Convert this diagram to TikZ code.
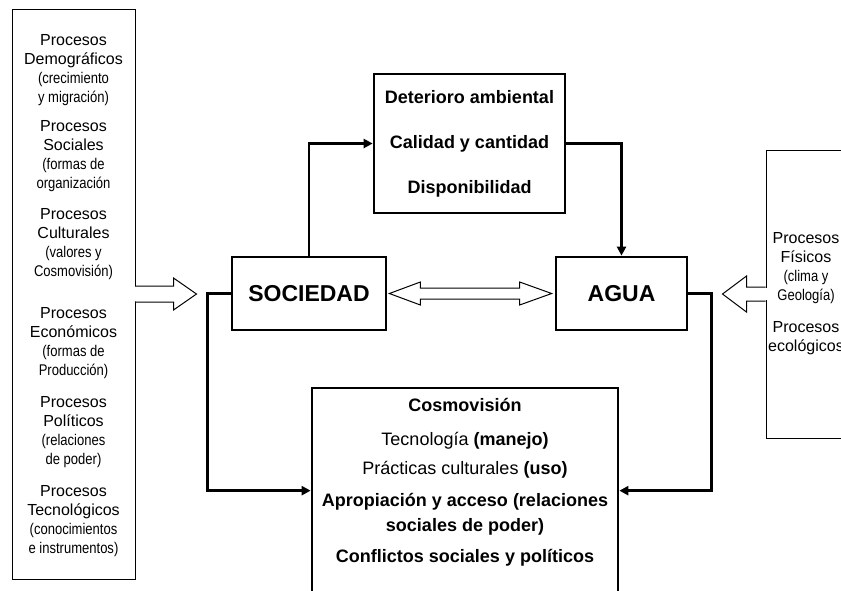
\documentclass[tikz,border=0pt]{standalone}
\usepackage{fontspec}
\setmainfont{Liberation Sans}
\newfontfamily\narrowf[FakeStretch=0.84]{Liberation Sans}
\usetikzlibrary{calc,arrows.meta}
\newcommand\parenln[1]{{\narrowf\fontsize{15.5}{19}\selectfont #1}}
\begin{document}
\begin{tikzpicture}[x=1pt,y=-1pt,
  thickbox/.style={draw,line width=2.7pt,inner sep=0pt},
  thinbox/.style={draw,line width=1pt,inner sep=0pt},
  conn/.style={line width=2.7pt,-{Triangle[length=9pt,width=9pt]}},
  blockarrow/.style={draw,line width=1pt,fill=white},
  procf/.style={font=\fontsize{16}{19}\selectfont, align=center, inner sep=0pt},
  boldf/.style={font=\bfseries\fontsize{18}{21}\selectfont, inner sep=0pt, align=center},
  bigf/.style={font=\bfseries\fontsize{23}{26}\selectfont},
]
\useasboundingbox (0,0) rectangle (841,590);
\clip (0,0) rectangle (841,590);

% left box with process groups
\node[thinbox, minimum width=123pt, minimum height=570pt] (lbox) at (73.5,294) {};
\node[procf] (g1) at (73.5,70)  {Procesos\\Demográficos\\\parenln{(crecimiento}\\\parenln{y migración)}};
\node[procf] (g2) at (73.5,156) {Procesos\\Sociales\\\parenln{(formas de}\\\parenln{organización}};
\node[procf] (g3) at (73.5,244) {Procesos\\Culturales\\\parenln{(valores y}\\\parenln{Cosmovisión)}};
\node[procf] (g4) at (73.5,343) {Procesos\\Económicos\\\parenln{(formas de}\\\parenln{Producción)}};
\node[procf] (g5) at (73.5,432) {Procesos\\Políticos\\\parenln{(relaciones}\\\parenln{de poder)}};
\node[procf] (g6) at (73.5,521) {Procesos\\Tecnológicos\\\parenln{(conocimientos}\\\parenln{e instrumentos)}};

% right box
\node[thinbox, procf, minimum width=80pt, minimum height=288pt] (rbox) at (806,294)
  {Procesos\\Físicos\\\parenln{(clima y}\\\parenln{Geología)}\\[13pt]Procesos\\ecológicos};

% main boxes
\node[thickbox, bigf, minimum width=154pt, minimum height=73pt] (soc) at (309,293.5) {SOCIEDAD};
\node[thickbox, bigf, minimum width=131pt, minimum height=73pt] (agua) at (621.5,293.5) {AGUA};
\node[thickbox, minimum width=191pt, minimum height=139pt, align=center,
      font=\bfseries\fontsize{18}{45}\selectfont] (top) at (469.5,143.5)
  {Deterioro ambiental\\Calidad y cantidad\\Disponibilidad};
\node[thickbox, minimum width=306pt, minimum height=232pt] (bot) at (465,504) {};

% bottom box texts
\node[boldf] (b1) at (465,405) {Cosmovisión};
\node[boldf, font=\fontsize{18}{21}\selectfont] (b2) at (465,441) {Tecnología \textbf{(manejo)}};
\node[boldf, font=\fontsize{18}{21}\selectfont] (b3) at (465,470) {Prácticas culturales \textbf{(uso)}};
\node[boldf, font=\bfseries\fontsize{18}{25}\selectfont] (b4) at (465,514.5) {Apropiación y acceso (relaciones\\sociales de poder)};
\node[boldf] (b5) at (465,558) {Conflictos sociales y políticos};

% connectors
\coordinate (binl) at ($(bot.north west)+(0,104)$);
\coordinate (binr) at ($(bot.north east)+(0,104)$);
\draw[conn] (soc.north) |- (top.west);
\draw[conn] (top.east) -| (agua.north);
\draw[conn] (soc.west) -- ++(-23,0) |- (binl);
\draw[conn] (agua.east) -- ++(23,0) |- (binr);

% double block arrow between SOCIEDAD and AGUA
\draw[blockarrow] ($(soc.east)+(2,0)$) -- ($(soc.east)+(33,-11.5)$) -- ($(soc.east)+(33,-5.5)$)
  -- ($(agua.west)+(-35,-5.5)$) -- ($(agua.west)+(-35,-11.5)$) -- ($(agua.west)+(-3,0)$)
  -- ($(agua.west)+(-35,11.5)$) -- ($(agua.west)+(-35,5.5)$) -- ($(soc.east)+(33,5.5)$)
  -- ($(soc.east)+(33,11.5)$) -- cycle;

% left block arrow (merged into left box)
\fill[white] ($(lbox.east)+(-1,-7)$) rectangle ($(lbox.east)+(1,7)$);
\filldraw[blockarrow] ($(lbox.east)+(0,-8)$) -- ($(lbox.east)+(38,-8)$) -- ($(lbox.east)+(38,-16)$)
  -- ($(lbox.east)+(61,0)$) -- ($(lbox.east)+(38,16)$) -- ($(lbox.east)+(38,8)$) -- ($(lbox.east)+(0,8)$);

% right block arrow (merged into right box)
\fill[white] ($(rbox.west)+(-1,-6)$) rectangle ($(rbox.west)+(1,6)$);
\filldraw[blockarrow] ($(rbox.west)+(0,-7)$) -- ($(rbox.west)+(-19,-7)$) -- ($(rbox.west)+(-19,-18)$)
  -- ($(rbox.west)+(-43,0)$) -- ($(rbox.west)+(-19,18)$) -- ($(rbox.west)+(-19,7)$) -- ($(rbox.west)+(0,7)$);
\end{tikzpicture}
\end{document}
